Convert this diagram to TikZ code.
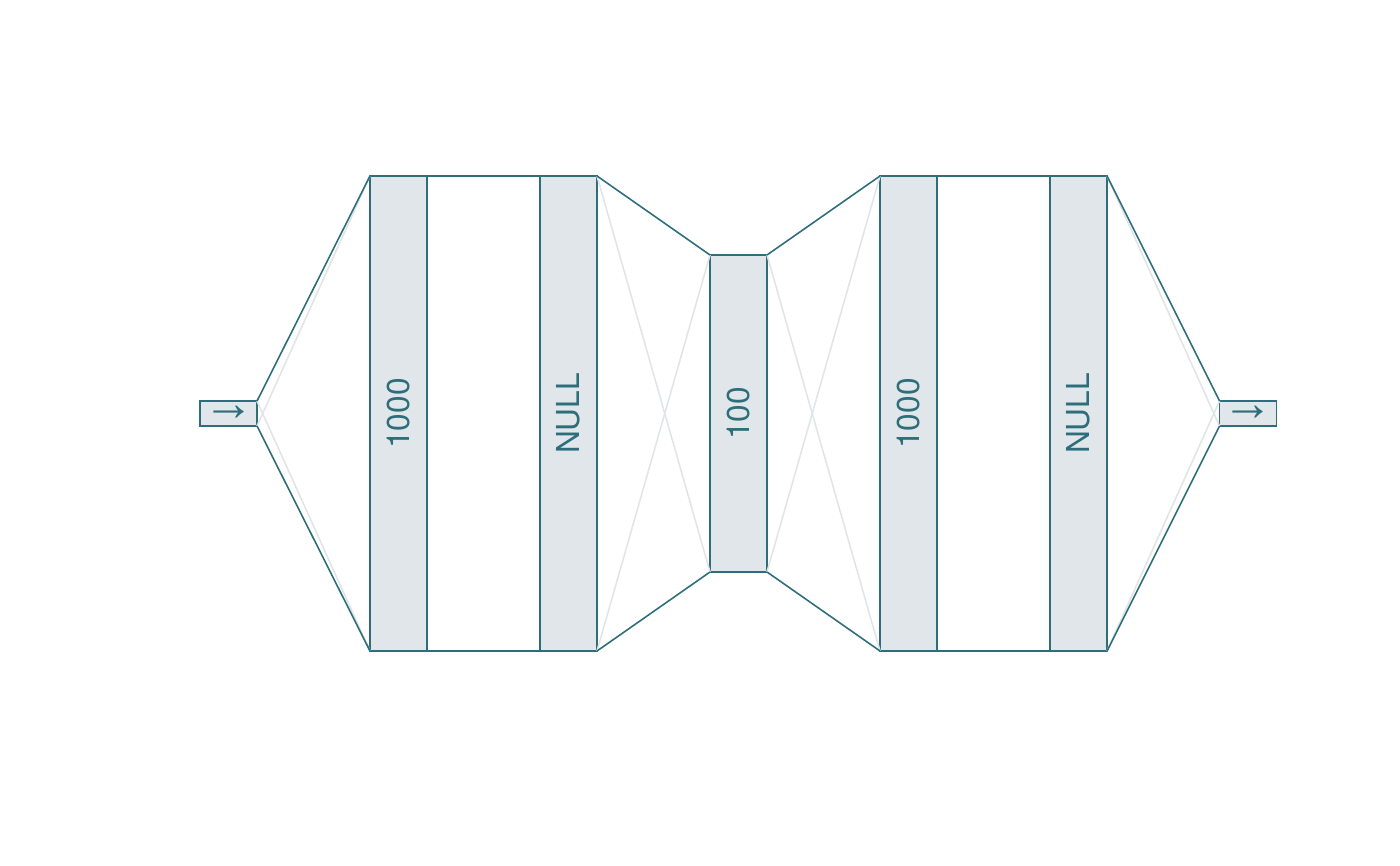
\documentclass[tikz,border=0pt]{standalone}
\usepackage{fontspec}
\setmainfont{TeX Gyre Heros}
\newfontfamily\arrowfont{Liberation Sans}
\definecolor{teal}{HTML}{2E6E7A}
\definecolor{layerfill}{HTML}{E0E6EA}
\definecolor{faint}{HTML}{E1E5E8}
\tikzset{
  layer/.style={rectangle,draw=teal,fill=layerfill,line width=0.9pt,inner sep=0pt,outer sep=0pt,
    minimum width=1.14cm,text=teal,font=\fontsize{18}{18}\selectfont},
  io/.style={layer,minimum height=0.5cm,font=\arrowfont\fontsize{29}{29}\selectfont},
  link/.style={draw=teal,line width=0.9pt},
  cross/.style={draw=faint,line width=0.9pt}
}
\begin{document}
\begin{tikzpicture}
\useasboundingbox (0,0) rectangle (28,17.32);
% Layers
\node[io] (in) at (4.57,9.05) {→};
\node[layer,minimum height=9.5cm] (dense1) at (7.97,9.05) {\rotatebox{90}{1000}};
\node[layer,minimum height=9.5cm] (null1) at (11.37,9.05) {\rotatebox{90}{NULL}};
\node[layer,minimum height=6.34cm] (mid) at (14.77,9.05) {\rotatebox{90}{100}};
\node[layer,minimum height=9.5cm] (dense2) at (18.17,9.05) {\rotatebox{90}{1000}};
\node[layer,minimum height=9.5cm] (null2) at (21.57,9.05) {\rotatebox{90}{NULL}};
\node[io] (out) at (24.96,9.05) {→};

% Crossing lines
\draw[cross] (in.north east) -- (dense1.south west);
\draw[cross] (in.south east) -- (dense1.north west);
\draw[cross] (null1.north east) -- (mid.south west);
\draw[cross] (null1.south east) -- (mid.north west);
\draw[cross] (mid.north east) -- (dense2.south west);
\draw[cross] (mid.south east) -- (dense2.north west);
\draw[cross] (null2.north east) -- (out.south west);
\draw[cross] (null2.south east) -- (out.north west);

% Outline lines
\draw[link] (in.north east) -- (dense1.north west);
\draw[link] (in.south east) -- (dense1.south west);
\draw[link] (dense1.north east) -- (null1.north west);
\draw[link] (dense1.south east) -- (null1.south west);
\draw[link] (null1.north east) -- (mid.north west);
\draw[link] (null1.south east) -- (mid.south west);
\draw[link] (mid.north east) -- (dense2.north west);
\draw[link] (mid.south east) -- (dense2.south west);
\draw[link] (dense2.north east) -- (null2.north west);
\draw[link] (dense2.south east) -- (null2.south west);
\draw[link] (null2.north east) -- (out.north west);
\draw[link] (null2.south east) -- (out.south west);
\end{tikzpicture}
\end{document}
